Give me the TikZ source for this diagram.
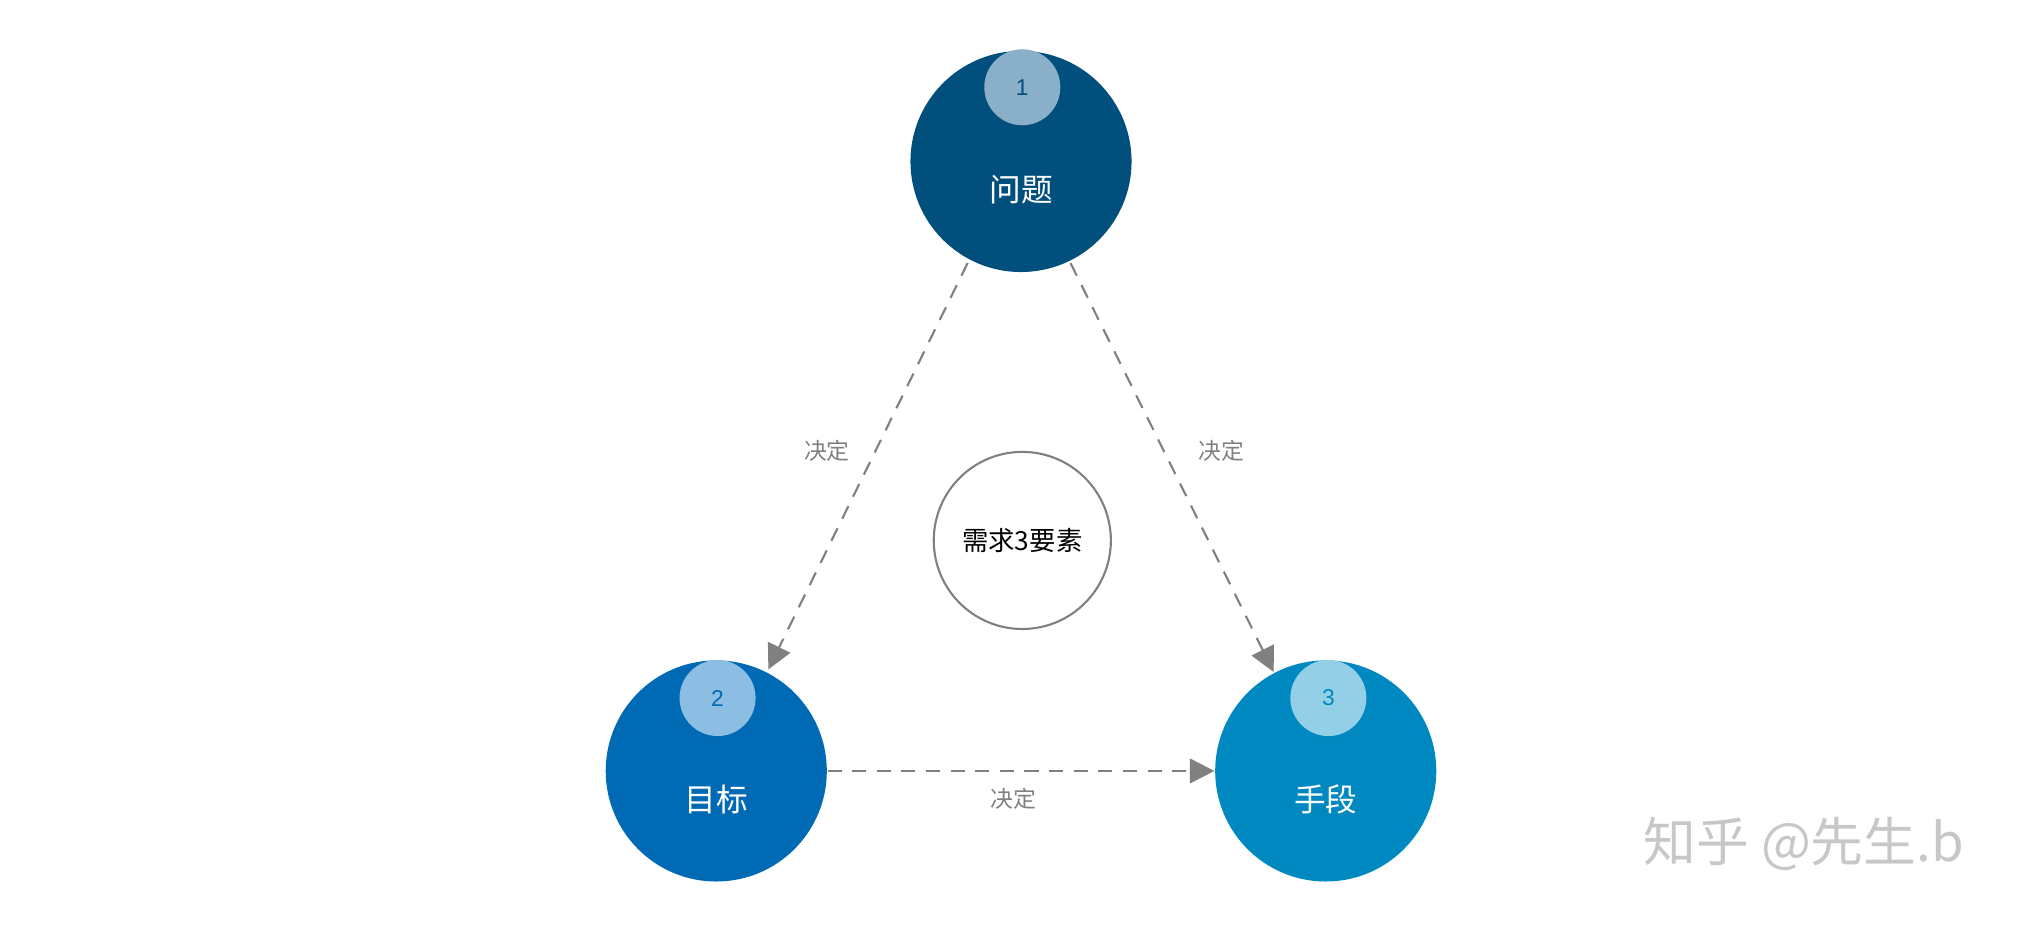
\documentclass[tikz,border=0pt]{standalone}
\usepackage{fontspec}
\setmainfont{Liberation Sans}
\newfontfamily\cjk{Noto Sans CJK SC}
\usetikzlibrary{arrows.meta}
\definecolor{cA}{HTML}{004F7C}
\definecolor{cB}{HTML}{006AB5}
\definecolor{cC}{HTML}{0089C0}
\definecolor{sA}{HTML}{8AAFC9}
\definecolor{sB}{HTML}{8CBDE2}
\definecolor{sC}{HTML}{93CFE6}
\tikzset{
 big/.style={circle,minimum size=2.21cm,inner sep=0pt,text=white,font=\cjk\fontsize{9}{9}\selectfont},
 small/.style={circle,minimum size=0.76cm,inner sep=0pt,font=\fontsize{6.5}{6.5}\selectfont},
 conn/.style={draw=gray,dashed,dash pattern=on 4pt off 3pt,line width=0.6pt,-{Triangle[length=7pt,width=7pt]}},
 lab/.style={font=\cjk\fontsize{6.5}{6.5}\selectfont,text=gray}
}
\begin{document}
\begin{tikzpicture}[x=0.01302cm,y=-0.01302cm]
\useasboundingbox (0,0) rectangle (1568,710);
\node[big,fill=cA] (q) at (784,124) {};
\node[big,fill=cB] (g) at (550,592) {};
\node[big,fill=cC] (m) at (1018,592) {};
\node[text=white,font=\cjk\fontsize{9}{9}\selectfont] (qt) at (784,146) {问题};
\node[text=white,font=\cjk\fontsize{9}{9}\selectfont] (gt) at (550,614) {目标};
\node[text=white,font=\cjk\fontsize{9}{9}\selectfont] (mt) at (1018,614) {手段};
\node[small,fill=sA,text=cA] (q1) at (785,67) {1};
\node[small,fill=sB,text=cB] (g2) at (551,536) {2};
\node[small,fill=sC,text=cC] (m3) at (1020,536) {3};
\node[circle,draw=gray,line width=0.6pt,minimum size=1.77cm,font=\cjk\fontsize{7.5}{7.5}\selectfont] (c) at (785,415) {需求3要素};
\coordinate (a1) at (743,202); \coordinate (a2) at (590,514);
\coordinate (b1) at (822,202); \coordinate (b2) at (978,516);
\draw[conn] (a1) -- (a2);
\draw[conn] (b1) -- (b2);
\draw[conn] (g.east) -- (m.west);
\node[lab] (l1) at (635,346) {决定};
\node[lab] (l2) at (938,346) {决定};
\node[lab] (l3) at (778,613) {决定};
\node[font=\cjk\fontsize{15}{15}\selectfont,text=black!22] (w) at (1385,648) {知乎 @先生.b};
\end{tikzpicture}
\end{document}
